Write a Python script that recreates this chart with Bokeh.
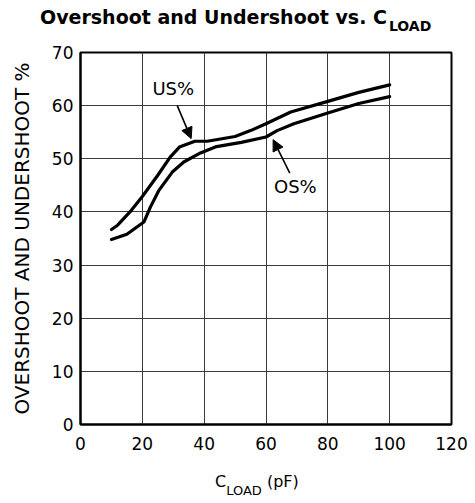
from bokeh.plotting import figure
from bokeh.models import Label, Arrow, NormalHead, FixedTicker, Range1d, Div
from bokeh.layouts import column
from bokeh.embed import file_html
from bokeh.resources import INLINE

# Data
us_x = [10, 12, 16, 20, 25, 29, 32, 37, 41, 50, 55, 60, 68, 80, 90, 100]
us_y = [36.7, 37.5, 40.0, 42.9, 46.9, 50.3, 52.2, 53.3, 53.3, 54.2, 55.3, 56.6, 58.8, 60.8, 62.5, 63.9]
os_x = [10, 15, 20.5, 22.6, 25.3, 29.7, 33.4, 38.8, 44, 52, 60, 63.6, 69, 80, 90, 100]
os_y = [34.8, 35.8, 38.1, 40.9, 44.0, 47.5, 49.4, 51.1, 52.3, 53.1, 54.1, 55.3, 56.6, 58.6, 60.4, 61.7]
x_ticks = [0, 20, 40, 60, 80, 100, 120]
y_ticks = [0, 10, 20, 30, 40, 50, 60, 70]

FONT = "DejaVu Sans"
W = 474

# ---- title (HTML, for the subscript) ----
title_html = (
    f'<div style="position:relative;width:{W}px;height:44px;margin:0;padding:0;">'
    '<span style="position:absolute;left:40px;top:8px;white-space:nowrap;'
    "font-family:'DejaVu Sans';font-weight:bold;font-size:19px;line-height:19px;color:black;\">"
    'Overshoot and Undershoot vs. C'
    '<span style="font-size:14px;position:relative;top:7px;margin-left:2px;">LOAD</span>'
    '</span></div>'
)
top = Div(text=title_html, width=W, height=44, margin=0)

# ---- main chart ----
p = figure(width=W, height=416, output_backend="svg", toolbar_location=None,
           x_range=Range1d(0, 120), y_range=Range1d(0, 70),
           min_border_left=80, min_border_right=W - 451, min_border_top=8, min_border_bottom=36)
p.background_fill_color = "white"
p.border_fill_color = "white"
p.outline_line_color = "black"
p.outline_line_width = 2
p.outline_line_alpha = 1

p.xaxis.ticker = FixedTicker(ticks=x_ticks)
p.yaxis.ticker = FixedTicker(ticks=y_ticks)
for ax in (p.xaxis[0], p.yaxis[0]):
    ax.axis_line_color = "black"
    ax.axis_line_width = 2
    ax.major_tick_out = 0
    ax.major_tick_in = 0
    ax.minor_tick_out = 0
    ax.minor_tick_in = 0
    ax.major_label_text_font = FONT
    ax.major_label_text_font_size = "17px"
    ax.major_label_text_color = "black"
p.xaxis.major_label_standoff = 12
p.yaxis.major_label_standoff = 7

p.yaxis.axis_label = "OVERSHOOT AND UNDERSHOOT %"
p.yaxis.axis_label_text_font = FONT
p.yaxis.axis_label_text_font_size = "20px"
p.yaxis.axis_label_text_font_style = "normal"
p.yaxis.axis_label_text_color = "black"
p.yaxis.axis_label_standoff = 15

p.grid.grid_line_color = "#3a3a3a"
p.grid.grid_line_width = 1
p.grid.grid_line_alpha = 1
p.xgrid.ticker = FixedTicker(ticks=x_ticks)
p.ygrid.ticker = FixedTicker(ticks=y_ticks)

p.line(us_x, us_y, line_color="black", line_width=3.2, line_join="round", line_cap="round")
p.line(os_x, os_y, line_color="black", line_width=3.2, line_join="round", line_cap="round")

p.add_layout(Label(x=30.0, y=63.3, text="US%", text_font=FONT, text_font_size="18px",
                   text_align="center", text_baseline="middle", text_color="black"))
p.add_layout(Label(x=69.5, y=44.7, text="OS%", text_font=FONT, text_font_size="18px",
                   text_align="center", text_baseline="middle", text_color="black"))
p.add_layout(Arrow(x_start=31.3, y_start=60.0, x_end=35.8, y_end=53.8, line_width=1.6,
                   line_color="black",
                   end=NormalHead(size=11, fill_color="black", line_color="black")))
p.add_layout(Arrow(x_start=67.7, y_start=47.3, x_end=62.3, y_end=53.6, line_width=1.6,
                   line_color="black",
                   end=NormalHead(size=11, fill_color="black", line_color="black")))

# ---- x-axis label (HTML, for the subscript) ----
xlabel_html = (
    f'<div style="position:relative;width:{W}px;height:42px;margin:0;padding:0;">'
    '<span style="position:absolute;left:215px;top:14px;white-space:nowrap;'
    "font-family:'DejaVu Sans';font-size:16px;line-height:16px;color:black;\">"
    'C<span style="font-size:13px;position:relative;top:8px;">LOAD</span> (pF)'
    '</span></div>'
)
bottom = Div(text=xlabel_html, width=W, height=42, margin=0)

layout = column(top, p, bottom, spacing=0)
open("out.html", "w").write(file_html(layout, INLINE))
